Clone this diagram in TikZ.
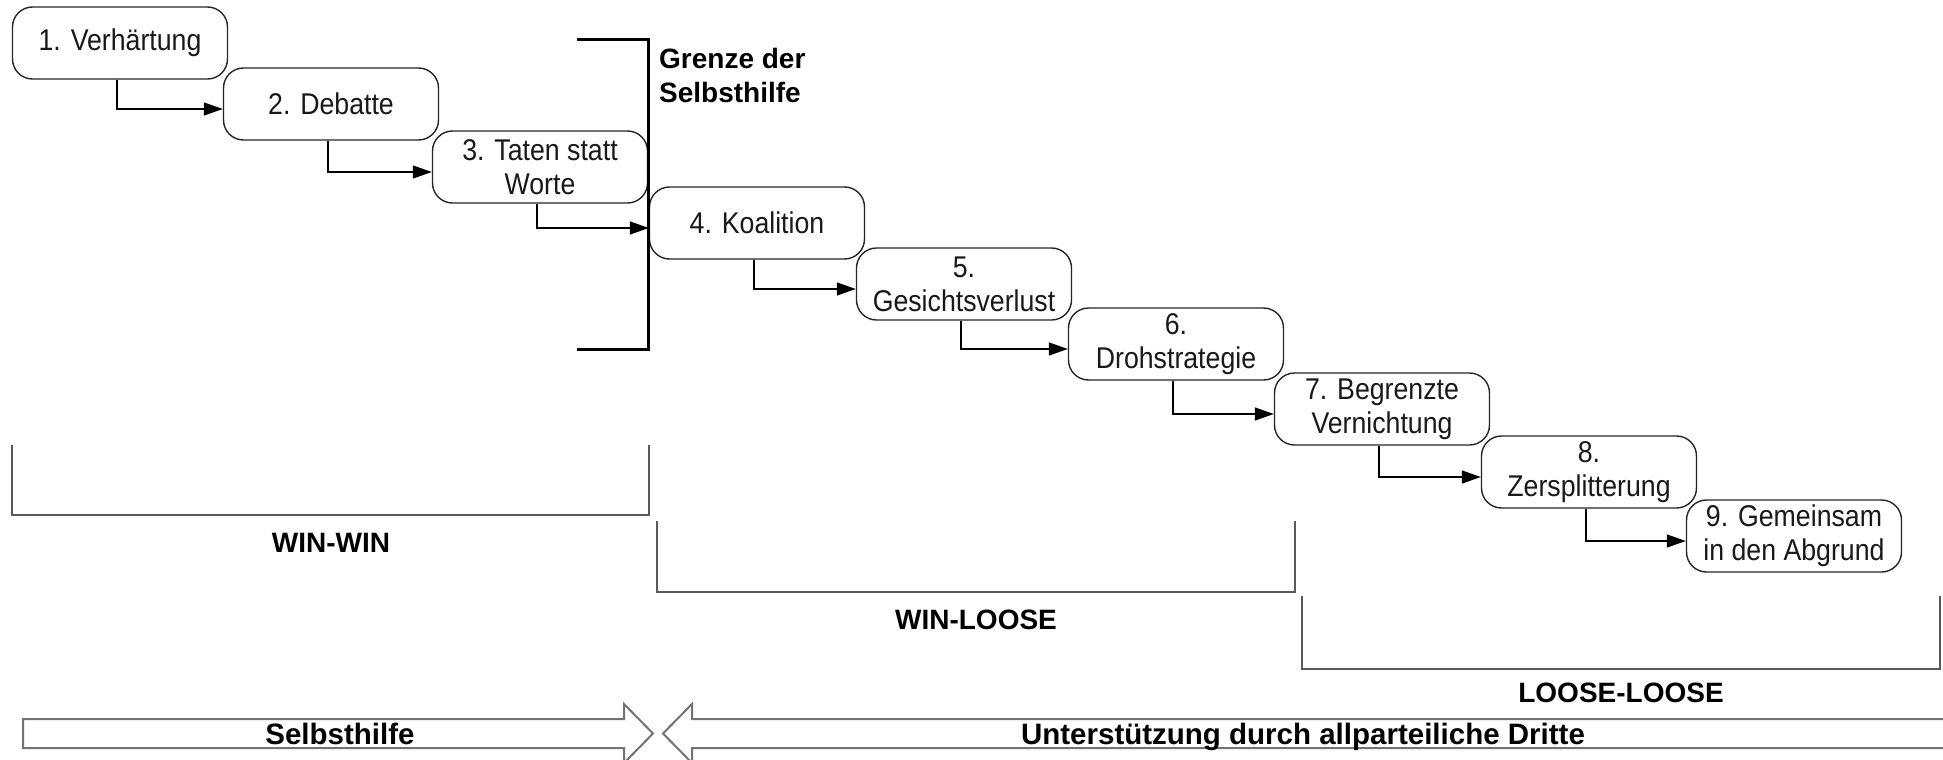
\documentclass[tikz,border=0pt]{standalone}
\usepackage{fontspec}
\setmainfont{Liberation Sans}
\newfontfamily\narrowfont{Liberation Sans}[FakeStretch=0.89]
\usetikzlibrary{arrows.meta,calc}
\begin{document}
\begin{tikzpicture}[x=1pt,y=-1pt,
  stage/.style={draw=black!85, line width=1.4pt, rounded corners=20pt, fill=white,
    minimum width=215pt, minimum height=72pt, align=center, inner sep=2pt,
    text=black!90, font=\narrowfont\fontsize{30}{34}\selectfont},
  conn/.style={line width=1.4pt, -{Triangle[length=19pt,width=13pt]}},
  limitline/.style={line width=3pt, black},
  phase/.style={line width=2pt, draw=black!65},
  phaselabel/.style={font=\bfseries\fontsize{28}{34}\selectfont},
  bigarrow/.style={line width=2pt, draw=black!55, fill=white, line join=miter},
  arrowlabel/.style={font=\bfseries\fontsize{29.5}{34}\selectfont, anchor=base}
]
\useasboundingbox (0,0) rectangle (1943,760);
\clip (0,0) rectangle (1943,760);

% stages
\node[stage] (b1) at (120,43)  {1. Verhärtung};
\node[stage] (b2) at (331,104) {2. Debatte};
\node[stage] (b3) at (540,167) {3. Taten statt\\Worte};
\node[stage] (b4) at (757,223) {4. Koalition};
\node[stage] (b5) at (964,284) {5.\\Gesichtsverlust};
\node[stage] (b6) at (1176,344) {6.\\Drohstrategie};
\node[stage] (b7) at (1382,409) {7. Begrenzte\\Vernichtung};
\node[stage] (b8) at (1589,472) {8.\\Zersplitterung};
\node[stage] (b9) at (1794,536) {9. Gemeinsam\\in den Abgrund};

% connectors
\foreach \a/\b in {b1/b2,b2/b3,b3/b4,b4/b5,b5/b6,b6/b7,b7/b8,b8/b9}{
  \draw[conn] ($(\a.south)+(-3,0)$) |- ($(\b.west)+(0,5)$);
}

% limit of self help
\coordinate (gt1) at (577,40);
\coordinate (gt2) at (648,40);
\coordinate (gb2) at (648,349);
\coordinate (gb1) at (577,349);
\draw[limitline] (gt1) -- (gt2) -- (gb2) -- (gb1);
\node[anchor=north west, inner sep=0pt, align=left,
  font=\bfseries\fontsize{28}{34}\selectfont] (grenze) at (659,48) {Grenze der\\Selbsthilfe};

% phases
\draw[phase] (12,445) -- (12,515) -- (649,515) -- (649,445);
\node[phaselabel] (ww) at (331,543) {WIN-WIN};
\draw[phase] (657,521) -- (657,592) -- (1295,592) -- (1295,521);
\node[phaselabel] (wl) at (976,620) {WIN-LOOSE};
\draw[phase] (1302,596) -- (1302,669) -- (1940,669) -- (1940,596);
\node[phaselabel] (ll) at (1621,693) {LOOSE-LOOSE};

% bottom arrows
\draw[bigarrow] (23,719) -- (624,719) -- (624,704) -- (653,733.5) -- (624,763) -- (624,748) -- (23,748) -- cycle;
\draw[bigarrow] (1965,719) -- (692,719) -- (692,704) -- (663,733.5) -- (692,763) -- (692,748) -- (1965,748) -- cycle;
\node[arrowlabel] (sh) at (340,744) {Selbsthilfe};
\node[arrowlabel] (ud) at (1303,744) {Unterstützung durch allparteiliche Dritte};
\end{tikzpicture}
\end{document}
